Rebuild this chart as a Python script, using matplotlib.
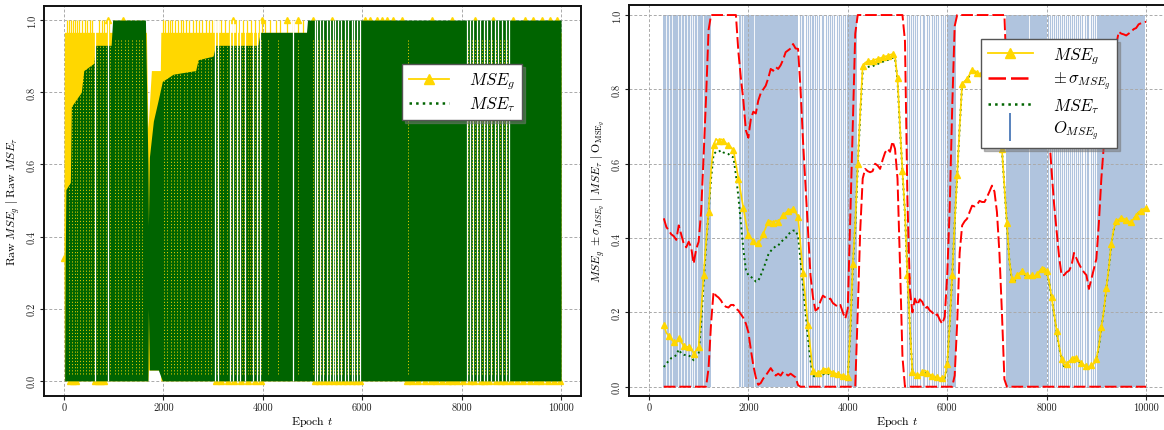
import numpy as np
import matplotlib
matplotlib.use("Agg")
import matplotlib.pyplot as plt
from matplotlib.lines import Line2D

plt.rcParams.update({
    "font.family": "serif",
    "font.serif": ["cmr10"],
    "mathtext.fontset": "cm",
    "axes.formatter.use_mathtext": True,
    "axes.unicode_minus": False,
})

GOLD = "#FFD700"
GREEN = "#006400"
RED = "#FF0000"
OBLUE = "#B0C4DE"

# ---------------- raw losses (left panel): envelopes of the oscillating series
raw_g_ep = [0, 10, 1660, 1690, 1700, 1760, 1940, 1950, 10000]
raw_g_top = [0.34, 0.966, 0.966, 0.70, 0.72, 0.86, 0.86, 0.966, 0.966]
raw_g_bot = [0.34, 0.0, 0.0, 0.0, 0.03, 0.03, 0.03, 0.0, 0.0]

raw_t_ep = [15, 25, 40, 130, 150, 350, 400, 600, 640, 950, 980, 1640, 1690,
            1700, 1720, 1800, 1900, 1980, 2200, 2650, 2700, 3000, 3050, 3900,
            3950, 4880, 4900, 10000]
raw_t_top = [0.0, 0.30, 0.53, 0.55, 0.76, 0.80, 0.86, 0.88, 0.93, 0.93, 1.0,
             1.0, 0.60, 0.43, 0.62, 0.72, 0.78, 0.83, 0.85, 0.86, 0.89, 0.90,
             0.93, 0.93, 0.966, 0.966, 1.0, 1.0]
raw_t_bot = [0.0, 0.0, 0.0, 0.0, 0.0, 0.0, 0.0, 0.0, 0.0, 0.0, 0.0, 0.0, 0.0,
             0.20, 0.03, 0.03, 0.03, 0.0, 0.0, 0.0, 0.0, 0.0, 0.0, 0.0,
             0.0, 0.0, 0.0, 0.0]

# epochs where raw MSE_g spikes up to 1.0
raw_g_peaks = [60, 95, 140, 190, 230, 270, 300, 360, 420, 470, 520, 560, 700,
               760, 800, 860, 900, 1000, 1050, 1120, 1190, 1260, 1330, 1400,
               1470, 1540, 1600, 1990, 2040, 2090, 2130, 2180, 2230, 2300,
               2350, 2400, 2450, 2520, 2600, 2660, 2720, 2780, 2850, 2920,
               2970, 3040, 3100, 3170, 3250, 3330, 3394, 3460, 3530, 3600,
               3680, 3760, 3840, 3920, 3990, 4050, 4150, 4260, 4350, 4480,
               4600, 4715, 4800]
# epochs where raw MSE_g shows between the dotted MSE_tau strokes
raw_g_through = [110, 160, 215, 260, 330, 380, 450, 500, 545, 600, 660, 720,
                 780, 840, 920, 1030, 1090, 1150, 1220, 1290, 1370, 1450,
                 1520, 1580, 2010, 2070, 2150, 2210, 2280, 2330, 2420, 2480,
                 2560, 2630, 2700, 2760, 2830, 2900, 2960, 3070, 3140, 3210,
                 3280, 3370, 3440, 3510, 3580, 3620, 3700, 3740, 3790, 3850,
                 3900, 3970, 4100, 4300, 4700, 5020, 5120, 5180, 5240, 5320,
                 5380, 5430, 5490, 5550, 5600, 5690, 5750, 5810, 5870, 5930,
                 6928, 8130, 8200, 8270, 8330, 8410, 8480, 8550, 8620, 8700,
                 8770, 8850, 8920]
# epochs where both raw losses stay flat (no oscillation)
raw_flat = [620, 880, 3038, 3105, 3340, 3407, 3474, 3541, 3641, 3809, 3876,
            3943, 4614, 5050, 5097, 5151, 5205, 5285, 5352, 5406, 5453, 5520,
            5573, 5654, 5721, 5788, 5835, 5902, 5956, 8115, 8169, 8236, 8303,
            8370, 8451, 8518, 8585, 8672, 8739, 8806, 8893, 8960]
# sampled MSE_g markers sitting at 1.0 and at 0.0
raw_g_marks_hi = [885, 1190, 3394, 3990, 4480, 4715, 5017, 5386, 6056, 6157,
                  6291, 6392, 6493, 6626, 6794, 7398, 7800, 8270, 8638, 9040,
                  9276, 9443, 9611, 9779, 9913]
raw_g_marks_lo = [120, 180, 240, 620, 680, 740, 800, 3060, 3160, 3300, 3420,
                  3560, 3700, 3850, 3960, 5060, 5140, 5240, 5330, 5430, 5520,
                  5620, 5700, 5800, 5880, 5960, 6910, 7000, 7120, 7260, 7380,
                  7480, 7600, 7720, 7800, 7900, 8020, 8160, 8240, 8380, 8460,
                  8560, 8700, 8800, 8880, 8990, 9120, 9240, 9380, 9500, 9600,
                  9740, 9860, 9980]

# ---------------- smoothed losses (right panel), every 50 epochs from 300
epochs = np.arange(300, 10001, 50)
mse_g = [
    0.165, 0.145, 0.137, 0.128, 0.120, 0.118, 0.131, 0.120, 0.110, 0.108, 0.107, 0.104, 0.089, 0.098,
    0.107, 0.200, 0.300, 0.390, 0.470, 0.585, 0.650, 0.667, 0.660, 0.666, 0.662, 0.655, 0.650, 0.644, 0.636, 0.600, 0.560, 0.520, 0.480, 0.443,
    0.407, 0.400, 0.392, 0.382, 0.387, 0.396, 0.412, 0.428, 0.443, 0.446, 0.440, 0.447, 0.444, 0.452, 0.462, 0.468, 0.472, 0.476, 0.478, 0.470,
    0.456, 0.380, 0.305, 0.235, 0.165, 0.100, 0.042, 0.035, 0.038, 0.041, 0.045, 0.048, 0.046, 0.042, 0.038, 0.036, 0.034, 0.032, 0.030, 0.029,
    0.027, 0.150, 0.330, 0.440, 0.600, 0.740, 0.862, 0.872, 0.875, 0.876, 0.877, 0.880, 0.882, 0.884, 0.886, 0.889, 0.890, 0.893, 0.895, 0.888,
    0.830, 0.700, 0.580, 0.470, 0.300, 0.160, 0.040, 0.033, 0.032, 0.030, 0.040, 0.044, 0.038, 0.033, 0.030, 0.028, 0.025, 0.022, 0.024, 0.026,
    0.060, 0.170, 0.300, 0.440, 0.570, 0.700, 0.815, 0.822, 0.828, 0.840, 0.852, 0.850, 0.845, 0.842, 0.845, 0.848, 0.850, 0.848, 0.850, 0.852,
    0.850, 0.760, 0.640, 0.540, 0.440, 0.340, 0.290, 0.283, 0.300, 0.305, 0.310, 0.305, 0.300, 0.298, 0.300, 0.296, 0.302, 0.310, 0.318, 0.320,
    0.310, 0.282, 0.240, 0.198, 0.150, 0.110, 0.075, 0.057, 0.062, 0.068, 0.075, 0.080, 0.076, 0.070, 0.064, 0.058, 0.055, 0.052, 0.058, 0.062,
    0.075, 0.110, 0.160, 0.205, 0.265, 0.320, 0.385, 0.425, 0.445, 0.450, 0.455, 0.452, 0.448, 0.445, 0.443, 0.452, 0.460, 0.470, 0.474, 0.478,
    0.480,
]
mse_t = [
    0.053, 0.062, 0.070, 0.077, 0.080, 0.085, 0.100, 0.090, 0.086, 0.085, 0.084, 0.080, 0.071, 0.080,
    0.089, 0.170, 0.280, 0.380, 0.470, 0.560, 0.625, 0.632, 0.632, 0.636, 0.630, 0.628, 0.626, 0.620, 0.617, 0.570, 0.510, 0.440, 0.370, 0.315,
    0.300, 0.296, 0.290, 0.283, 0.285, 0.300, 0.317, 0.335, 0.355, 0.365, 0.372, 0.378, 0.380, 0.388, 0.395, 0.400, 0.410, 0.415, 0.420, 0.420,
    0.405, 0.340, 0.270, 0.200, 0.130, 0.070, 0.030, 0.026, 0.028, 0.030, 0.033, 0.036, 0.035, 0.032, 0.030, 0.027, 0.026, 0.026, 0.025, 0.024,
    0.024, 0.140, 0.320, 0.430, 0.590, 0.730, 0.850, 0.858, 0.860, 0.862, 0.862, 0.866, 0.868, 0.872, 0.874, 0.877, 0.879, 0.882, 0.885, 0.884,
    0.825, 0.695, 0.575, 0.465, 0.295, 0.155, 0.037, 0.030, 0.029, 0.028, 0.036, 0.040, 0.035, 0.030, 0.028, 0.026, 0.023, 0.021, 0.022, 0.024,
    0.058, 0.168, 0.298, 0.438, 0.568, 0.698, 0.813, 0.820, 0.826, 0.838, 0.850, 0.848, 0.843, 0.840, 0.843, 0.846, 0.848, 0.846, 0.848, 0.850,
    0.848, 0.758, 0.638, 0.538, 0.438, 0.338, 0.288, 0.281, 0.298, 0.303, 0.308, 0.303, 0.298, 0.296, 0.298, 0.294, 0.300, 0.308, 0.316, 0.318,
    0.308, 0.280, 0.238, 0.196, 0.148, 0.108, 0.073, 0.055, 0.060, 0.066, 0.073, 0.078, 0.074, 0.068, 0.062, 0.056, 0.053, 0.050, 0.056, 0.060,
    0.073, 0.108, 0.158, 0.203, 0.263, 0.318, 0.383, 0.423, 0.443, 0.448, 0.453, 0.450, 0.446, 0.443, 0.441, 0.450, 0.458, 0.468, 0.472, 0.476,
    0.478,
]
sigma_hi = [
    0.453, 0.430, 0.420, 0.410, 0.405, 0.395, 0.434, 0.410, 0.385, 0.375, 0.390, 0.375, 0.331, 0.370,
    0.390, 0.470, 0.620, 0.780, 0.960, 1.0, 1.0, 1.0, 1.0, 1.0, 1.0, 1.0, 1.0, 1.0, 1.0, 1.0, 0.900, 0.830, 0.770, 0.690,
    0.670, 0.720, 0.740, 0.735, 0.770, 0.790, 0.800, 0.810, 0.830, 0.855, 0.850, 0.860, 0.855, 0.865, 0.880, 0.900, 0.905, 0.910, 0.922, 0.910,
    0.909, 0.800, 0.660, 0.540, 0.420, 0.300, 0.240, 0.205, 0.210, 0.230, 0.245, 0.240, 0.235, 0.237, 0.225, 0.220, 0.215, 0.220, 0.200, 0.183,
    0.210, 0.450, 0.700, 0.950, 1.0, 1.0, 1.0, 1.0, 1.0, 1.0, 1.0, 1.0, 1.0, 1.0, 1.0, 1.0, 1.0, 1.0, 1.0, 1.0,
    1.0, 1.0, 1.0, 0.930, 0.500, 0.260, 0.200, 0.237, 0.220, 0.235, 0.228, 0.210, 0.215, 0.205, 0.200, 0.190, 0.195, 0.180, 0.169, 0.188,
    0.300, 0.480, 0.750, 0.970, 1.0, 1.0, 1.0, 1.0, 1.0, 1.0, 1.0, 1.0, 1.0, 1.0, 1.0, 1.0, 1.0, 1.0, 1.0, 1.0,
    1.0, 1.0, 1.0, 1.0, 0.820, 0.770, 0.760, 0.760, 0.765, 0.760, 0.760, 0.758, 0.762, 0.760, 0.758, 0.760, 0.762, 0.765, 0.760, 0.760,
    0.740, 0.680, 0.580, 0.490, 0.420, 0.350, 0.300, 0.300, 0.308, 0.312, 0.326, 0.360, 0.345, 0.330, 0.318, 0.308, 0.300, 0.263, 0.290, 0.317,
    0.344, 0.440, 0.560, 0.650, 0.730, 0.800, 0.860, 0.905, 0.920, 0.955, 0.950, 0.948, 0.945, 0.950, 0.955, 0.962, 0.965, 0.975, 0.978, 0.980,
    0.982,
]
sigma_lo = [
    0.0, 0.0, 0.0, 0.0, 0.0, 0.0, 0.0, 0.0, 0.0, 0.0, 0.0, 0.0, 0.0, 0.0,
    0.0, 0.0, 0.0, 0.0, 0.050, 0.170, 0.255, 0.245, 0.240, 0.232, 0.220, 0.215, 0.213, 0.220, 0.220, 0.210, 0.205, 0.195, 0.185, 0.170,
    0.147, 0.100, 0.057, 0.025, 0.005, 0.010, 0.022, 0.030, 0.040, 0.050, 0.040, 0.030, 0.035, 0.030, 0.040, 0.035, 0.030, 0.035, 0.030, 0.025,
    0.004, 0.0, 0.0, 0.0, 0.0, 0.0, 0.0, 0.0, 0.0, 0.0, 0.0, 0.0, 0.0, 0.0, 0.0, 0.0, 0.0, 0.0, 0.0, 0.0,
    0.0, 0.0, 0.0, 0.0, 0.200, 0.420, 0.560, 0.586, 0.580, 0.577, 0.580, 0.600, 0.595, 0.586, 0.610, 0.630, 0.640, 0.632, 0.660, 0.640,
    0.560, 0.330, 0.080, 0.0, 0.0, 0.0, 0.0, 0.0, 0.0, 0.0, 0.0, 0.0, 0.0, 0.0, 0.0, 0.0, 0.0, 0.0, 0.0, 0.0,
    0.0, 0.0, 0.0, 0.030, 0.170, 0.360, 0.434, 0.445, 0.452, 0.470, 0.487, 0.485, 0.490, 0.500, 0.497, 0.497, 0.510, 0.525, 0.541, 0.525,
    0.470, 0.360, 0.200, 0.020, 0.0, 0.0, 0.0, 0.0, 0.0, 0.0, 0.0, 0.0, 0.0, 0.0, 0.0, 0.0, 0.0, 0.0, 0.0, 0.0,
    0.0, 0.0, 0.0, 0.0, 0.0, 0.0, 0.0, 0.0, 0.0, 0.0, 0.0, 0.0, 0.0, 0.0, 0.0, 0.0, 0.0, 0.0, 0.0, 0.0,
    0.0, 0.0, 0.0, 0.0, 0.0, 0.0, 0.0, 0.0, 0.0, 0.0, 0.0, 0.0, 0.0, 0.0, 0.0, 0.0, 0.0, 0.0, 0.0, 0.0,
    0.0,
]

# outlier flags O_MSE_g: runs of flagged epochs, unflagged epochs inside them,
# and isolated flagged epochs
outlier_start = [280, 1817, 3978, 5989, 7183, 9007]
outlier_end = [1241, 3004, 4179, 6177, 8014, 9980]
outlier_breaks = [342, 402, 469, 590, 637, 704, 758, 825, 858, 912, 972, 1093,
                  1845, 1885, 2113, 7646]
outlier_single = [3038, 3072, 3105, 3159, 3206, 3239, 3273, 3306, 3340, 3387,
                  3427, 3474, 3508, 3561, 3608, 3642, 3688, 3729, 3776, 3830,
                  3863, 3910, 3944,
                  5184, 5231, 5272, 5318, 5352, 5399, 5453, 5507, 5540, 5587,
                  5634, 5688, 5734, 5775, 5821, 5869, 5922, 5962,
                  8035, 8062, 8109, 8141, 8189, 8236, 8270, 8318, 8350, 8384,
                  8431, 8478, 8511, 8545, 8592, 8639, 8672, 8719, 8772, 8806,
                  8840, 8893, 8940, 8974]

# ---------------- figure
fig = plt.figure(figsize=(11.64, 4.31), dpi=100)
axL = fig.add_axes([0.0378, 0.0789, 0.4613, 0.9049])
axR = fig.add_axes([0.5404, 0.0789, 0.4613, 0.9072])


def style_axes(ax, ylim):
    ax.set_xlim(-400, 10400)
    ax.set_ylim(*ylim)
    ax.set_xticks([0, 2000, 4000, 6000, 8000, 10000])
    ax.set_yticks([0.0, 0.2, 0.4, 0.6, 0.8, 1.0])
    ax.set_yticklabels(["0.0", "0.2", "0.4", "0.6", "0.8", "1.0"],
                       rotation=90, va="center")
    ax.set_xticklabels(["0", "2000", "4000", "6000", "8000", "10000"])
    ax.tick_params(labelsize=7.5, length=3, width=0.8, pad=2,
                   colors="#222222")
    ax.grid(True, color="#aaaaaa", linestyle=(0, (3, 2)), linewidth=0.7,
            zorder=1.5)
    for s in ax.spines.values():
        s.set_linewidth(1.4)
        s.set_color("#111111")
    ax.set_xlabel(r"Epoch $t$", fontsize=8.5, labelpad=1)


# ---- left panel
style_axes(axL, (-0.042, 1.039))
axL.fill_between(raw_g_ep, raw_g_bot, raw_g_top, color=GOLD, lw=0, zorder=2)
axL.vlines(raw_g_peaks, 0.9, 1.0, color=GOLD, lw=0.9, zorder=2)
axL.plot(raw_g_marks_lo, np.zeros(len(raw_g_marks_lo)), ls="none", marker="^",
         ms=4, color=GOLD, zorder=1.9)
axL.plot(raw_g_marks_hi, np.ones(len(raw_g_marks_hi)), ls="none", marker="^",
         ms=4, color=GOLD, zorder=2)
axL.plot([raw_g_ep[0]], [raw_g_top[0]], ls="none", marker="^", ms=4,
         color=GOLD, zorder=2)
axL.fill_between(raw_t_ep, raw_t_bot, raw_t_top, color=GREEN, lw=0, zorder=2.1)
axL.vlines(raw_g_through, 0.02, 0.95, color=GOLD, lw=0.7,
           linestyles=[(0, (1.2, 2.0))], alpha=0.85, zorder=2.15)
axL.vlines(raw_flat, 0.0, 1.0, color="white", lw=0.9, zorder=2.2)
axL.set_ylabel(r"$\mathrm{Raw}\ MSE_g\ |\ \mathrm{Raw}\ MSE_\tau$",
               fontsize=8.5, labelpad=4)
legL = axL.legend(
    handles=[Line2D([], [], color=GOLD, lw=1.3, marker="^", ms=7),
             Line2D([], [], color=GREEN, lw=1.8, ls=":")],
    labels=[r"$MSE_g$", r"$MSE_\tau$"],
    loc="upper left", bbox_to_anchor=(0.652, 0.873), fontsize=12,
    handlelength=2.4, numpoints=1, fancybox=False, framealpha=1,
    edgecolor="#555555", borderpad=0.4, labelspacing=0.2, handletextpad=1.2,
    shadow={"ox": 2, "oy": -2, "color": "#777777"})
legL.get_frame().set_linewidth(1.0)
legL.set_zorder(5)

# ---- right panel
style_axes(axR, (-0.025, 1.027))
axR.bar(outlier_start, 1.0, width=np.subtract(outlier_end, outlier_start),
        align="edge", bottom=0.0, color=OBLUE, lw=0, zorder=0.5)
axR.vlines(outlier_breaks, 0.0, 1.0, color="white", lw=0.6, zorder=0.6)
axR.vlines(outlier_single, 0.0, 1.0, color=OBLUE, lw=0.8, zorder=0.5)
axR.plot(epochs, mse_t, color=GREEN, lw=1.4, ls=":", zorder=3.0)
axR.plot(epochs, mse_g, color=GOLD, lw=1.2, marker="^", ms=4.5, markevery=2,
         zorder=3.1)
axR.plot(epochs, sigma_hi, color=RED, lw=1.4, dashes=(6, 2), zorder=3.2)
axR.plot(epochs, sigma_lo, color=RED, lw=1.4, dashes=(6, 2), zorder=3.2)
axR.set_ylabel(r"$MSE_g\ \pm\sigma_{MSE_g}\ |\ MSE_\tau\ |\ \mathrm{O}_{\mathrm{MSE}_g}$",
               fontsize=8.5, labelpad=4)
legR = axR.legend(
    handles=[Line2D([], [], color=GOLD, lw=1.3, marker="^", ms=7),
             Line2D([], [], color=RED, lw=1.8, dashes=(7, 2)),
             Line2D([], [], color=GREEN, lw=1.8, ls=":"),
             Line2D([], [], color="#4a78b8", ls="none", marker="|", ms=20,
                    mew=1.3)],
    labels=[r"$MSE_g$", r"$\pm\,\sigma_{MSE_g}$", r"$MSE_\tau$",
            r"$O_{MSE_g}$"],
    loc="upper left", bbox_to_anchor=(0.640, 0.935), fontsize=12,
    handlelength=2.7, numpoints=1, fancybox=False, framealpha=1,
    edgecolor="#555555", borderpad=0.4, labelspacing=0.22, handletextpad=1.2,
    shadow={"ox": 2, "oy": -2, "color": "#777777"})
legR.get_frame().set_linewidth(1.0)
legR.set_zorder(5)

fig.savefig("out.png", dpi=100)
